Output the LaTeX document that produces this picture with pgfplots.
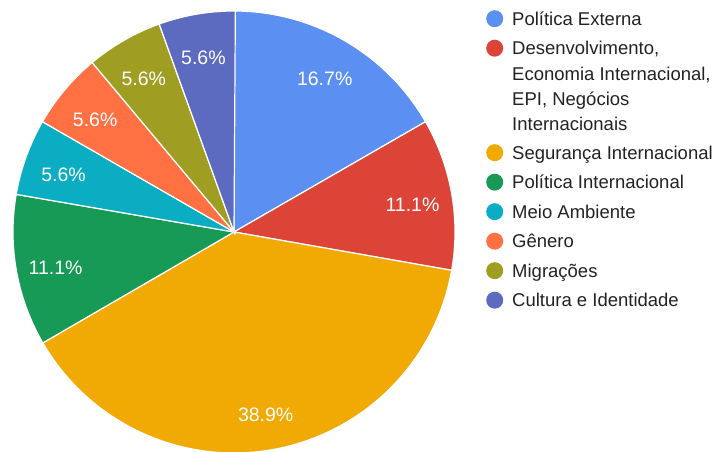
\documentclass[border=0pt]{standalone}
\usepackage{pgfplots}
\pgfplotsset{compat=1.18}
\usepackage{fontspec}
\setmainfont{Liberation Sans}
\definecolor{cA}{HTML}{5B8FF2}
\definecolor{cB}{HTML}{DB4437}
\definecolor{cC}{HTML}{F1A903}
\definecolor{cD}{HTML}{169A55}
\definecolor{cE}{HTML}{0AADC2}
\definecolor{cF}{HTML}{FF7043}
\definecolor{cG}{HTML}{A09E22}
\definecolor{cH}{HTML}{5C6BC0}
\definecolor{legtext}{HTML}{222222}
\newcommand{\estrut}{\vrule width 0pt height 18bp depth 5bp}
\newcommand{\lstrut}{\vrule width 0pt height 14bp depth 5bp}
\begin{document}
\begin{tikzpicture}
\def\cx{234}\def\cy{220}\def\rr{221}\def\tot{100.1}
% percentages (data)
\def\pA{16.7}\def\pB{11.1}\def\pC{38.9}\def\pD{11.1}
\def\pE{5.6}\def\pF{5.6}\def\pG{5.6}\def\pH{5.6}
\pgfmathsetmacro\sA{90}
\pgfmathsetmacro\sB{\sA-\pA/\tot*360}
\pgfmathsetmacro\sC{\sB-\pB/\tot*360}
\pgfmathsetmacro\sD{\sC-\pC/\tot*360}
\pgfmathsetmacro\sE{\sD-\pD/\tot*360}
\pgfmathsetmacro\sF{\sE-\pE/\tot*360}
\pgfmathsetmacro\sG{\sF-\pF/\tot*360}
\pgfmathsetmacro\sH{\sG-\pG/\tot*360}
\pgfmathsetmacro\sI{\sH-\pH/\tot*360}
\begin{axis}[
  scale only axis, width=727bp, height=452bp,
  xmin=0, xmax=727, ymin=0, ymax=452,
  axis line style={draw=none}, xtick=\empty, ytick=\empty,
  legend style={at={(axis cs:486,445)}, anchor=north west, draw=none, fill=none,
    inner sep=0pt, row sep=9.5bp, nodes={inner sep=0pt, anchor=base west},
    font=\fontsize{18.5bp}{25.5bp}\selectfont\color{legtext}},
  /tikz/every odd column/.append style={column sep=9bp},
  legend image code/.code={\fill[#1,draw=none] (8.5bp,6.5bp) circle (8.5bp);},
  legend cell align=left,
]
\newcommand{\slice}[4]{%
  \addplot[fill=#1, draw=white, line width=1.2bp, domain=#3:#2, samples=80, variable=\t]
    ({\cx+\rr*cos(\t)},{\cy+\rr*sin(\t)}) -- (axis cs:\cx,\cy) -- cycle;
  \addlegendentry{\estrut #4}%
}
\slice{cA}{\sA}{\sB}{Política Externa}
\slice{cB}{\sB}{\sC}{Desenvolvimento,}
\addlegendimage{empty legend}\addlegendentry{\lstrut Economia Internacional,}
\addlegendimage{empty legend}\addlegendentry{\lstrut EPI, Negócios}
\addlegendimage{empty legend}\addlegendentry{\lstrut Internacionais}
\slice{cC}{\sC}{\sD}{Segurança Internacional}
\slice{cD}{\sD}{\sE}{Política Internacional}
\slice{cE}{\sE}{\sF}{Meio Ambiente}
\slice{cF}{\sF}{\sG}{Gênero}
\slice{cG}{\sG}{\sH}{Migrações}
\slice{cH}{\sH}{\sI}{Cultura e Identidade}
\newcommand{\plabel}[3]{%
  \node[text=white, font=\fontsize{19.5bp}{20bp}\selectfont, inner sep=0pt]
    at (axis cs:{\cx+0.82*\rr*cos((#1+#2)/2)},{\cy-4+0.82*\rr*sin((#1+#2)/2)}) {#3\%};%
}
\plabel{\sA}{\sB}{\pA}
\plabel{\sB}{\sC}{\pB}
\plabel{\sC}{\sD}{\pC}
\plabel{\sD}{\sE}{\pD}
\plabel{\sE}{\sF}{\pE}
\plabel{\sF}{\sG}{\pF}
\plabel{\sG}{\sH}{\pG}
\plabel{\sH}{\sI}{\pH}
\end{axis}
\pgfresetboundingbox
\path[use as bounding box] (current axis.south west) rectangle (current axis.north east);
\end{tikzpicture}
\end{document}
